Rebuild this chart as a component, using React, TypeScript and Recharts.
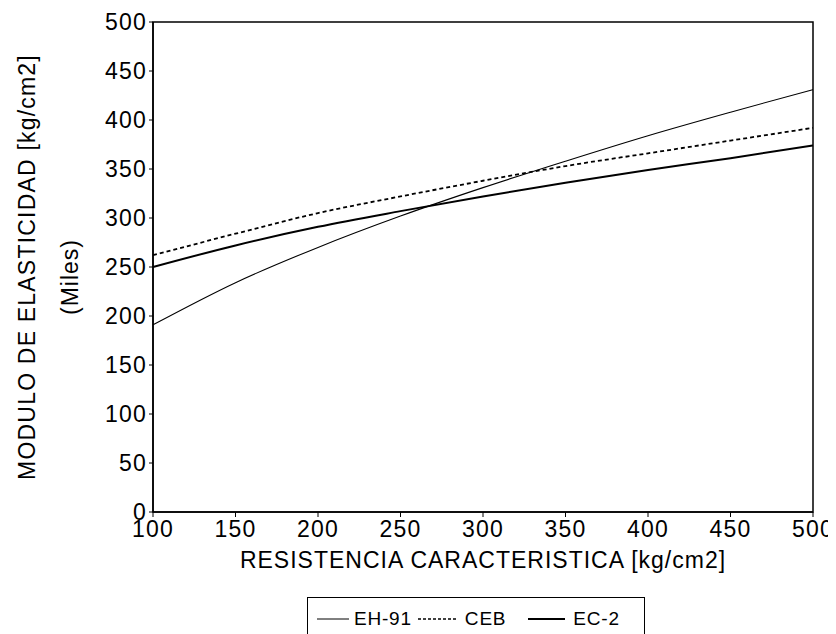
import React from "react";
import { LineChart, Line, XAxis, YAxis, Legend, ReferenceArea } from "recharts";

const resistencia = [100, 150, 200, 250, 300, 350, 400, 450, 500];
const eh91 = [191, 234, 270, 302, 331, 358, 384, 408, 431];
const ceb = [262, 284, 305, 322, 338, 353, 366, 379, 392];
const ec2 = [250, 272, 291, 307, 322, 336, 349, 361, 374];
const xTicks = [100, 150, 200, 250, 300, 350, 400, 450, 500];
const yTicks = [0, 50, 100, 150, 200, 250, 300, 350, 400, 450, 500];

const seriesNames = ["EH-91", "CEB", "EC-2"];

const data = resistencia.map((r, i) => ({
  r,
  eh91: eh91[i],
  ceb: ceb[i],
  ec2: ec2[i],
}));

const FONT = '"Liberation Sans", Arial, Helvetica, sans-serif';

const renderYLabel = (props: any) => {
  const vb = props.viewBox || { x: 0, y: 0, width: 145, height: 490 };
  const cy = vb.y + vb.height / 2;
  const x1 = vb.x + 19;
  const x2 = vb.x + 62;
  return (
    <g>
      <text
        x={x1}
        y={cy}
        transform={`rotate(-90, ${x1}, ${cy})`}
        textAnchor="middle"
        dominantBaseline="central"
        fontFamily={FONT}
        fontSize={23}
        letterSpacing={1.2}
        fill="#000"
      >
        MODULO DE ELASTICIDAD [kg/cm2]
      </text>
      <text
        x={x2}
        y={cy + 10}
        transform={`rotate(-90, ${x2}, ${cy + 10})`}
        textAnchor="middle"
        dominantBaseline="central"
        fontFamily={FONT}
        fontSize={23}
        letterSpacing={1}
        fill="#000"
      >
        (Miles)
      </text>
    </g>
  );
};

const renderXLabel = (props: any) => {
  const vb = props.viewBox || { x: 145, y: 504, width: 660, height: 122 };
  const cx = vb.x + vb.width / 2;
  return (
    <text
      x={cx}
      y={vb.y + 48}
      textAnchor="middle"
      dominantBaseline="central"
      fontFamily={FONT}
      fontSize={23}
      letterSpacing={1}
      fill="#000"
    >
      RESISTENCIA CARACTERISTICA [kg/cm2]
    </text>
  );
};

const Sample = ({ dash, width, sw }: { dash?: string; width: number; sw: number }) => (
  <svg width={width} height={10} style={{ display: "block" }}>
    <line x1={0} y1={5} x2={width} y2={5} stroke="#000" strokeWidth={sw} strokeDasharray={dash} />
  </svg>
);

const renderLegend = () => (
  <div
    style={{
      boxSizing: "border-box",
      width: 338,
      height: 60,
      border: "1px solid #000",
      display: "flex",
      alignItems: "center",
      paddingLeft: 9,
      paddingBottom: 16,
      fontFamily: FONT,
      fontSize: 19,
      letterSpacing: 0.8,
      color: "#000",
    }}
  >
    <Sample width={32} sw={1} />
    <span style={{ marginLeft: 5 }}>{seriesNames[0]}</span>
    <span style={{ marginLeft: 6 }}>
      <Sample width={40} sw={1.6} dash="3 2" />
    </span>
    <span style={{ marginLeft: 7 }}>{seriesNames[1]}</span>
    <span style={{ marginLeft: 22 }}>
      <Sample width={37} sw={2} />
    </span>
    <span style={{ marginLeft: 8 }}>{seriesNames[2]}</span>
  </div>
);

export default function App() {
  return (
    <LineChart
      width={828}
      height={626}
      data={data}
      margin={{ top: 14, right: 23, left: 0, bottom: 0 }}
    >
      <ReferenceArea
        x1={100}
        x2={500}
        y1={0}
        y2={500}
        fill="none"
        stroke="#000"
        strokeWidth={1.5}
        ifOverflow="visible"
      />
      <XAxis
        dataKey="r"
        type="number"
        domain={[100, 500]}
        ticks={xTicks}
        height={122}
        interval={0}
        tickSize={5}
        tickMargin={4}
        axisLine={{ stroke: "#000", strokeWidth: 1.5 }}
        tickLine={{ stroke: "#000", strokeWidth: 1 }}
        tick={{ fill: "#000", fontSize: 23, fontFamily: FONT, letterSpacing: 1.2 }}
        label={{ content: renderXLabel }}
      />
      <YAxis
        type="number"
        domain={[0, 500]}
        ticks={yTicks}
        width={145}
        interval={0}
        tickSize={4}
        tickMargin={2}
        axisLine={{ stroke: "#000", strokeWidth: 1.5 }}
        tickLine={{ stroke: "#000", strokeWidth: 1 }}
        tick={{ fill: "#000", fontSize: 23, fontFamily: FONT, letterSpacing: 1.2 }}
        label={{ content: renderYLabel }}
      />
      <Legend
        verticalAlign="middle"
        align="center"
        layout="horizontal"
        content={renderLegend}
        wrapperStyle={{ top: 589, left: 299, width: 338, height: 60 }}
      />
      <Line
        type="monotone"
        dataKey="eh91"
        name={seriesNames[0]}
        stroke="#000"
        strokeWidth={1.1}
        dot={false}
        isAnimationActive={false}
      />
      <Line
        type="monotone"
        dataKey="ceb"
        name={seriesNames[1]}
        stroke="#000"
        strokeWidth={1.8}
        strokeDasharray="4 3"
        dot={false}
        isAnimationActive={false}
      />
      <Line
        type="monotone"
        dataKey="ec2"
        name={seriesNames[2]}
        stroke="#000"
        strokeWidth={2}
        dot={false}
        isAnimationActive={false}
      />
    </LineChart>
  );
}
